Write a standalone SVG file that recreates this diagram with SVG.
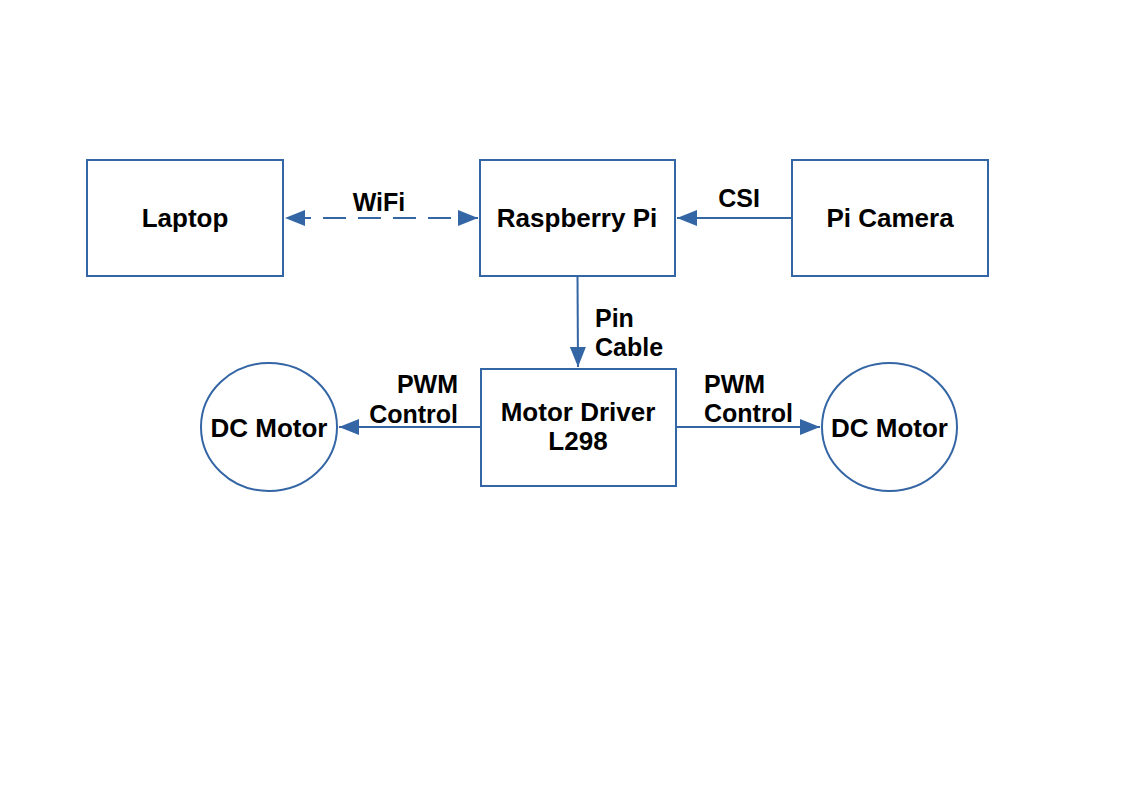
<svg xmlns="http://www.w3.org/2000/svg" width="1123" height="794" viewBox="0 0 1123 794">
<style>
.box{fill:#ffffff;stroke:#3465a4;stroke-width:2}
.conn{stroke:#3465a4;stroke-width:2;fill:none}
.t{font-family:"Liberation Sans",Arial,sans-serif;font-size:26px;font-weight:bold;fill:#000000}
.l{font-family:"Liberation Sans",Arial,sans-serif;font-size:25px;font-weight:bold;fill:#000000}
</style>
<defs>
<marker id="ah" viewBox="0 0 20 16" refX="20" refY="8" markerWidth="20" markerHeight="16" markerUnits="userSpaceOnUse" orient="auto-start-reverse">
<path d="M0,0 L20,8 L0,16 Z" fill="#3465a4"/>
</marker>
</defs>
<rect width="1123" height="794" fill="#ffffff"/>
<g id="connectors">
<line class="conn" x1="285" y1="218" x2="478" y2="218" stroke-dasharray="23,12" stroke-dashoffset="-3" marker-start="url(#ah)" marker-end="url(#ah)"/>
<line class="conn" x1="792" y1="218" x2="677" y2="218" marker-end="url(#ah)"/>
<line class="conn" x1="577.5" y1="276" x2="578" y2="367" marker-end="url(#ah)"/>
<line class="conn" x1="481" y1="427" x2="339" y2="427" marker-end="url(#ah)"/>
<line class="conn" x1="676" y1="427" x2="820" y2="427" marker-end="url(#ah)"/>
<text class="l" x="379" y="211" text-anchor="middle">WiFi</text>
<text class="l" x="739" y="207" text-anchor="middle">CSI</text>
<text class="l" x="595" y="327">Pin</text>
<text class="l" x="595" y="356">Cable</text>
<text class="l" x="458" y="393" text-anchor="end">PWM</text>
<text class="l" x="458" y="423" text-anchor="end">Control</text>
<text class="l" x="704" y="393">PWM</text>
<text class="l" x="704" y="422">Control</text>
</g>
<g id="laptop">
<rect class="box" x="87" y="160" width="196" height="116"/>
<text class="t" x="185" y="227" text-anchor="middle">Laptop</text>
</g>
<g id="raspberry-pi">
<rect class="box" x="480" y="160" width="195" height="116"/>
<text class="t" x="577" y="227" text-anchor="middle">Raspberry Pi</text>
</g>
<g id="pi-camera">
<rect class="box" x="792" y="160" width="196" height="116"/>
<text class="t" x="890" y="227" text-anchor="middle">Pi Camera</text>
</g>
<g id="motor-driver">
<rect class="box" x="481" y="369" width="195" height="117"/>
<text class="t" x="578" y="421" text-anchor="middle">Motor Driver</text>
<text class="t" x="578" y="450" text-anchor="middle">L298</text>
</g>
<g id="dc-motor-left">
<ellipse class="box" cx="269" cy="427" rx="68" ry="64"/>
<text class="t" x="269" y="437" text-anchor="middle">DC Motor</text>
</g>
<g id="dc-motor-right">
<ellipse class="box" cx="889.5" cy="427" rx="67.5" ry="64"/>
<text class="t" x="889.5" y="437" text-anchor="middle">DC Motor</text>
</g>
</svg>
